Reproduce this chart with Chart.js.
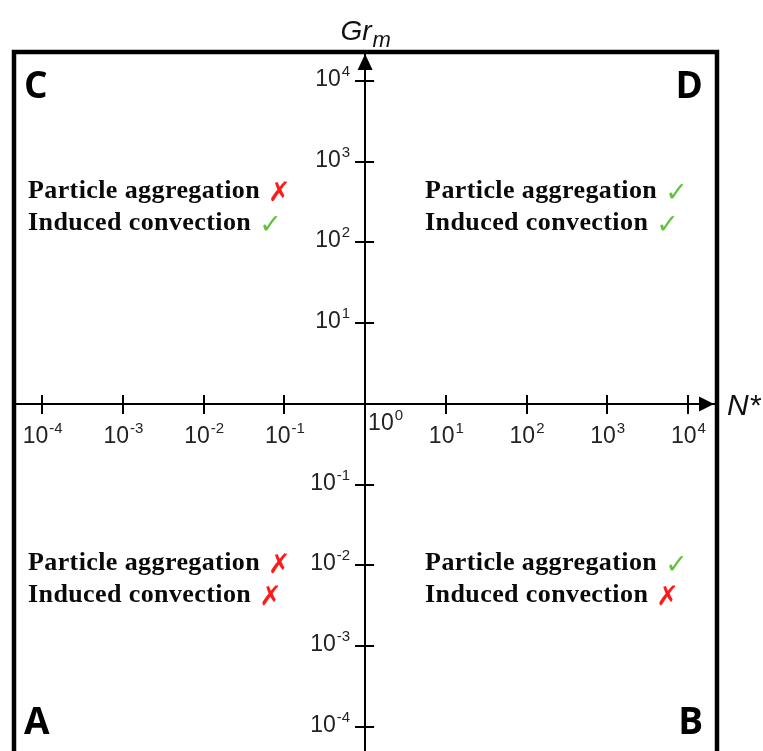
<!DOCTYPE html>
<html><head><meta charset="utf-8">
<script src="https://cdn.jsdelivr.net/npm/chart.js@4/dist/chart.umd.min.js"></script>
<style>html,body{margin:0;padding:0;background:#fff}#wrap{width:763px;height:751px;position:relative}</style>
</head><body><div id="wrap"><canvas id="c"></canvas></div>
<script>
// ---- data ----
const xTickExponents = [-4, -3, -2, -1, 1, 2, 3, 4];
const yTickExponents = [-4, -3, -2, -1, 1, 2, 3, 4];
const originLabelExponent = 0;
const xAxisTitle = 'N*';
const yAxisTitle = 'Gr';
const yAxisTitleSub = 'm';
const quadrantLetters = ['A', 'B', 'C', 'D'];          // bottom-left, bottom-right, top-left, top-right
const rowLabels = ['Particle aggregation', 'Induced convection'];
const aggregationOK = [false, true, false, true];       // A, B, C, D
const convectionOK  = [false, false, true, true];       // A, B, C, D

// ---- helpers ----
const TICK_FONT = "'Liberation Sans', Arial, sans-serif";
const SERIF = "'Liberation Serif', 'Times New Roman', serif";

function drawPow(ctx, exp, x, y, align) {
  const base = '10', e = String(exp);
  ctx.font = '23px ' + TICK_FONT;
  const wb = ctx.measureText(base).width;
  ctx.font = '15px ' + TICK_FONT;
  const we = ctx.measureText(e).width;
  const total = wb + we;
  let left = x;
  if (align === 'center') left = x - total / 2;
  else if (align === 'right') left = x - total;
  ctx.textAlign = 'left';
  ctx.textBaseline = 'alphabetic';
  ctx.font = '23px ' + TICK_FONT;
  ctx.fillText(base, left, y);
  ctx.font = '15px ' + TICK_FONT;
  ctx.fillText(e, left + wb + 1, y - 10);
}

const quadrantPlugin = {
  id: 'quadrant',
  afterDraw(chart) {
    const ctx = chart.ctx;
    const ca = chart.chartArea;
    const xs = chart.scales.x, ys = chart.scales.y;
    const ox = xs.getPixelForValue(1);
    const oy = ys.getPixelForValue(1);
    ctx.save();
    ctx.fillStyle = '#000';
    ctx.strokeStyle = '#000';

    // frame
    ctx.lineWidth = 4.5;
    ctx.beginPath();
    ctx.moveTo(ca.left, ca.bottom + 10);
    ctx.lineTo(ca.left, ca.top);
    ctx.lineTo(ca.right, ca.top);
    ctx.lineTo(ca.right, ca.bottom + 10);
    ctx.stroke();

    // complementary tick halves (library draws the outer halves)
    ctx.lineWidth = 2;
    ctx.beginPath();
    xs.ticks.forEach(t => {
      const px = Math.round(xs.getPixelForValue(t.value));
      ctx.moveTo(px, oy);
      ctx.lineTo(px, oy - 9);
    });
    ys.ticks.forEach(t => {
      const py = Math.round(ys.getPixelForValue(t.value));
      ctx.moveTo(ox, py);
      ctx.lineTo(ox + 9, py);
    });
    ctx.stroke();

    // arrow heads
    ctx.beginPath();
    ctx.moveTo(ox, ca.top + 2);
    ctx.lineTo(ox - 7.5, ca.top + 18);
    ctx.lineTo(ox + 7.5, ca.top + 18);
    ctx.closePath();
    ctx.fill();
    ctx.beginPath();
    ctx.moveTo(ca.right - 3, oy);
    ctx.lineTo(ca.right - 18, oy - 7.5);
    ctx.lineTo(ca.right - 18, oy + 7.5);
    ctx.closePath();
    ctx.fill();

    // tick labels
    ctx.fillStyle = '#222';
    xs.ticks.forEach(t => {
      const e = Math.round(Math.log10(t.value));
      drawPow(ctx, e, xs.getPixelForValue(t.value), oy + 39, 'center');
    });
    ys.ticks.forEach(t => {
      const e = Math.round(Math.log10(t.value));
      drawPow(ctx, e, ox - 16, ys.getPixelForValue(t.value) + 5, 'right');
    });
    drawPow(ctx, originLabelExponent, ox + 3, oy + 26, 'left');

    // axis titles
    ctx.fillStyle = '#111';
    ctx.textBaseline = 'alphabetic';
    ctx.font = 'italic 28px "Liberation Sans", Arial, sans-serif';
    ctx.textAlign = 'left';
    const wg = ctx.measureText(yAxisTitle).width;
    ctx.font = 'italic 22px "Liberation Sans", Arial, sans-serif';
    const wm = ctx.measureText(yAxisTitleSub).width;
    const gl = ox - (wg + wm) / 2;
    ctx.font = 'italic 28px "Liberation Sans", Arial, sans-serif';
    ctx.fillText(yAxisTitle, gl, ca.top - 12);
    ctx.font = 'italic 22px "Liberation Sans", Arial, sans-serif';
    ctx.fillText(yAxisTitleSub, gl + wg + 1, ca.top - 5);
    ctx.font = 'italic 30px "Liberation Sans", Arial, sans-serif';
    ctx.fillText(xAxisTitle, ca.right + 10, oy + 11);

    // quadrant letters
    ctx.fillStyle = '#000';
    ctx.font = 'bold 37px "Open Sans", "Liberation Sans", sans-serif';
    const letterPos = [
      {x: ca.left + 10, y: ca.bottom - 17, a: 'left'},
      {x: ca.right - 14, y: ca.bottom - 17, a: 'right'},
      {x: ca.left + 10, y: ca.top + 46, a: 'left'},
      {x: ca.right - 14, y: ca.top + 46, a: 'right'}
    ];
    quadrantLetters.forEach((L, i) => {
      ctx.textAlign = letterPos[i].a;
      ctx.fillText(L, letterPos[i].x, letterPos[i].y);
    });

    // quadrant statements
    const textPos = [
      {x: ca.left + 14, y: oy + 166},
      {x: ox + 60, y: oy + 166},
      {x: ca.left + 14, y: oy - 206},
      {x: ox + 60, y: oy - 206}
    ];
    const flags = [aggregationOK, convectionOK];
    textPos.forEach((p, i) => {
      rowLabels.forEach((lbl, r) => {
        const y = p.y + r * 32;
        ctx.textAlign = 'left';
        ctx.fillStyle = '#0a0a0a';
        ctx.font = 'bold 26px ' + SERIF;
        if ('letterSpacing' in ctx) ctx.letterSpacing = '0.4px';
        ctx.fillText(lbl, p.x, y);
        const w = ctx.measureText(lbl).width;
        if ('letterSpacing' in ctx) ctx.letterSpacing = '0px';
        const ok = flags[r][i];
        ctx.font = 'bold 27px "DejaVu Sans", sans-serif';
        ctx.fillStyle = ok ? '#5ec43c' : '#ff1a1a';
        ctx.fillText(ok ? '\u2713' : '\u2717', p.x + w + 8, y + 3);
      });
    });
    ctx.restore();
  }
};

function tickSetter(exps) {
  return function (scale) {
    scale.ticks = exps.map(e => ({value: Math.pow(10, e)}));
  };
}

new Chart(document.getElementById('c'), {
  type: 'scatter',
  data: {datasets: [{data: [], pointRadius: 0}]},
  options: {
    responsive: true,
    maintainAspectRatio: false,
    animation: false,
    layout: {padding: {left: 14, right: 46, top: 52, bottom: 0}},
    plugins: {legend: {display: false}, tooltip: {enabled: false}},
    scales: {
      x: {
        type: 'logarithmic',
        position: {y: 1},
        min: Math.pow(10, -4.35),
        max: Math.pow(10, 4.36),
        afterBuildTicks: tickSetter(xTickExponents),
        ticks: {display: false, autoSkip: false},
        grid: {display: true, drawOnChartArea: false, drawTicks: true, tickLength: 9, lineWidth: 2, color: '#000'},
        border: {display: true, width: 2, color: '#000'}
      },
      y: {
        type: 'logarithmic',
        position: {x: 1},
        min: Math.pow(10, -4.30),
        max: Math.pow(10, 4.36),
        afterBuildTicks: tickSetter(yTickExponents),
        ticks: {display: false, autoSkip: false},
        grid: {display: true, drawOnChartArea: false, drawTicks: true, tickLength: 9, lineWidth: 2, color: '#000'},
        border: {display: true, width: 2, color: '#000'}
      }
    }
  },
  plugins: [quadrantPlugin]
});
</script>
</body></html>
